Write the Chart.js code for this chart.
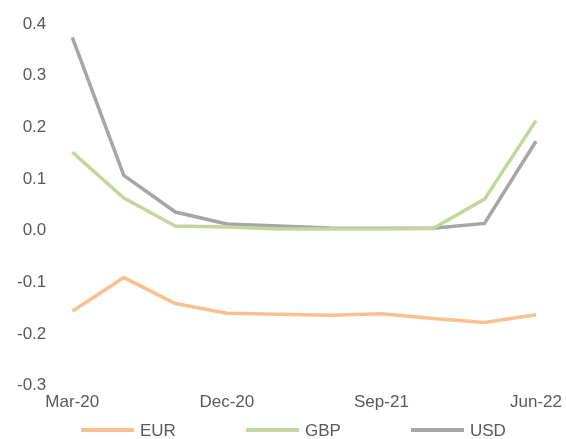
<!DOCTYPE html>
<html>
<head>
<meta charset="utf-8">
<script src="https://cdn.jsdelivr.net/npm/chart.js@4/dist/chart.umd.min.js"></script>
<style>
  html, body { margin: 0; padding: 0; background: #ffffff; }
  #wrap { position: relative; width: 566px; height: 439px; }
  #legend { position: absolute; left: 0; top: 421px; width: 566px; height: 18px;
    font-family: "Liberation Sans", Arial, sans-serif; font-size: 17px; color: #595959; }
  .item { position: absolute; top: 0; height: 18px; line-height: 18px; white-space: nowrap; }
  .swatch { position: absolute; top: 7px; left: 0; width: 53px; height: 4px; }
  .label { position: absolute; left: 59px; top: 1px; }
</style>
</head>
<body>
<div id="wrap">
  <canvas id="c" width="566" height="439"></canvas>
  <div id="legend"></div>
</div>
<script>
const categories = ["Mar-20","Jun-20","Sep-20","Dec-20","Mar-21","Jun-21","Sep-21","Dec-21","Mar-22","Jun-22"];
const eurValues = [-0.156, -0.091, -0.141, -0.160, -0.162, -0.164, -0.161, -0.170, -0.178, -0.163];
const gbpValues = [0.152, 0.063, 0.009, 0.007, 0.003, 0.003, 0.003, 0.004, 0.061, 0.213];
const usdValues = [0.374, 0.107, 0.036, 0.013, 0.009, 0.005, 0.0045, 0.0045, 0.014, 0.173];
const seriesNames = ["EUR", "GBP", "USD"];
const seriesColors = ["#FAC090", "#C3D69B", "#A6A6A6"];
const yTicks = [-0.3, -0.2, -0.1, 0.0, 0.1, 0.2, 0.3, 0.4];
const legendX = [81, 246, 411];

const seriesValues = [eurValues, gbpValues, usdValues];
const font = { family: '"Liberation Sans", Arial, sans-serif', size: 17 };

const chart = new Chart(document.getElementById('c'), {
  type: 'line',
  data: {
    labels: categories,
    datasets: seriesNames.map((name, i) => ({
      label: name,
      data: seriesValues[i],
      borderColor: seriesColors[i],
      backgroundColor: seriesColors[i],
      borderWidth: 3.5,
      pointRadius: 0,
      tension: 0,
      fill: false
    }))
  },
  options: {
    responsive: false,
    animation: false,
    events: [],
    layout: { padding: { left: 17, right: 30, top: 24, bottom: 26 } },
    plugins: { legend: { display: false }, tooltip: { enabled: false } },
    scales: {
      x: {
        offset: false,
        grid: { display: false, drawTicks: false },
        border: { display: false },
        afterFit: function(s) { s.paddingLeft = 0; s.paddingRight = 0; s.height -= 7; },
        ticks: {
          autoSkip: false, maxRotation: 0, minRotation: 0,
          padding: 7, color: '#595959', font: font,
          callback: function(v, i) { return i % 3 === 0 ? categories[i] : ''; }
        }
      },
      y: {
        min: yTicks[0], max: yTicks[yTicks.length - 1],
        afterBuildTicks: function(axis) { axis.ticks = yTicks.map(v => ({ value: v })); },
        afterFit: function(s) { s.paddingTop = 0; s.paddingBottom = 0; s.width -= 26; },
        grid: { display: false, drawTicks: false },
        border: { display: false },
        ticks: {
          padding: 26, color: '#595959', font: font,
          callback: function(v) { return Number(v).toFixed(1); }
        }
      }
    }
  }
});

const legend = document.getElementById('legend');
chart.data.datasets.forEach((ds, i) => {
  const item = document.createElement('div');
  item.className = 'item';
  item.style.left = legendX[i] + 'px';
  const sw = document.createElement('span');
  sw.className = 'swatch';
  sw.style.background = ds.borderColor;
  const lb = document.createElement('span');
  lb.className = 'label';
  lb.textContent = ds.label;
  item.appendChild(sw);
  item.appendChild(lb);
  legend.appendChild(item);
});
</script>
</body>
</html>
